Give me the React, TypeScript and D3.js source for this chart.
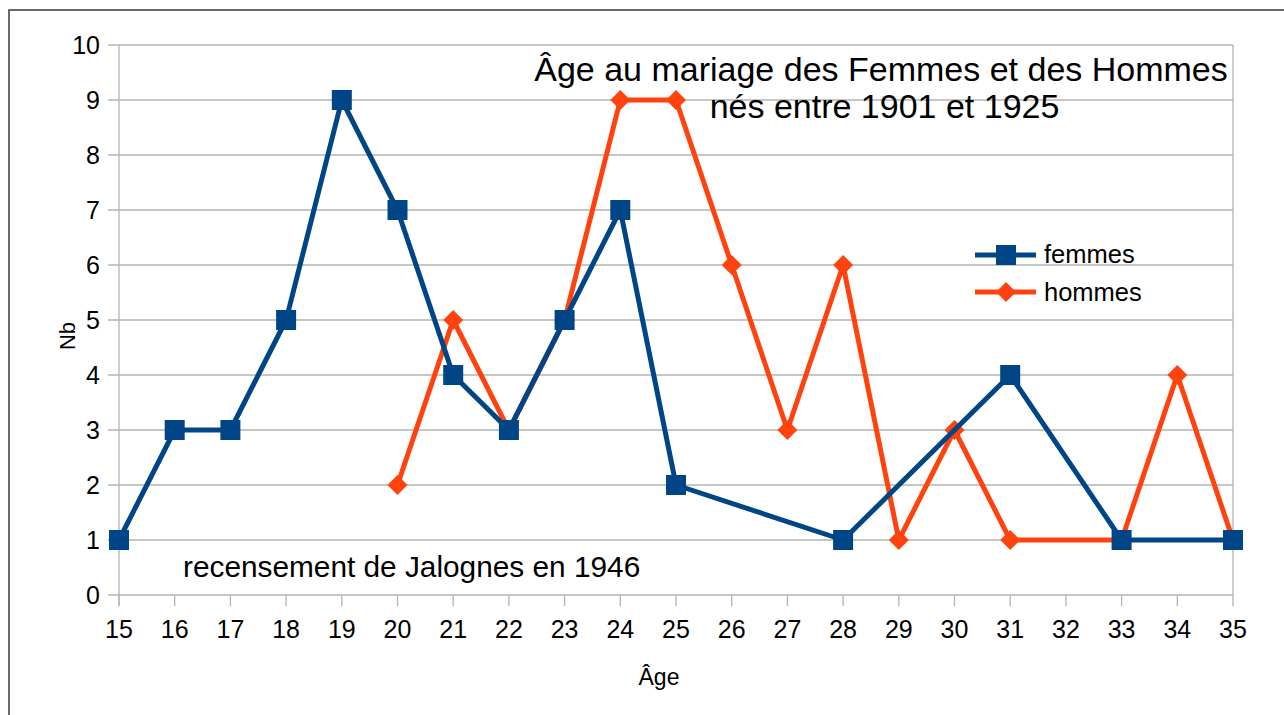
import React from 'react';
import * as d3 from 'd3';

// ages (x) and counts (y)
const femmesAges = [15, 16, 17, 18, 19, 20, 21, 22, 23, 24, 25, 28, 31, 33, 35];
const femmesNb = [1, 3, 3, 5, 9, 7, 4, 3, 5, 7, 2, 1, 4, 1, 1];

const hommesAges = [20, 21, 22, 23, 24, 25, 26, 27, 28, 29, 30, 31, 33, 34, 35];
const hommesNb = [2, 5, 3, 5, 9, 9, 6, 3, 6, 1, 3, 1, 1, 4, 1];

const xTicks = d3.range(15, 36);
const yTicks = d3.range(0, 11);

const titleLines = ['Âge au mariage des Femmes et des Hommes', 'nés entre 1901 et 1925'];
const note = 'recensement de Jalognes en 1946';

const BLUE = '#004586';
const ORANGE = '#ff420e';
const GRID = '#b3b3b3';
const FONT = '"Liberation Sans", Arial, sans-serif';

type Pt = { age: number; nb: number };

const zip = (a: number[], b: number[]): Pt[] => a.map((age, i) => ({ age, nb: b[i] }));

export default function App() {
  const width = 1284, height = 715;

  const x = d3.scaleLinear().domain([15, 35]).range([119, 1233]);
  const y = d3.scaleLinear().domain([0, 10]).range([595, 45]);

  const line = d3.line<Pt>()
    .x(d => x(d.age))
    .y(d => y(d.nb));

  const femmes = zip(femmesAges, femmesNb);
  const hommes = zip(hommesAges, hommesNb);

  const square = (cx: number, cy: number, key: any) =>
    <rect key={key} x={cx - 10} y={cy - 10} width={20} height={20} fill={BLUE} />;
  const diamond = (cx: number, cy: number, key: any) =>
    <path key={key} d={`M${cx},${cy - 10}L${cx + 10},${cy}L${cx},${cy + 10}L${cx - 10},${cy}Z`} fill={ORANGE} />;

  const [x0, x1] = x.range();
  const [yb, yt] = y.range();

  return (
    <svg width={width} height={height} style={{ position: 'absolute', left: 0, top: 0, fontFamily: FONT }}>
      <rect x={0} y={0} width={width} height={height} fill="#fff" />
      {/* outer frame */}
      <path d={`M9,${height}V10H${width}`} fill="none" stroke="#3a3a3a" strokeWidth={1.5} />

      {/* grid */}
      {yTicks.map(t => (
        <line key={'g' + t} x1={x0 - 11} x2={x1} y1={y(t)} y2={y(t)} stroke={GRID} strokeWidth={1.3} />
      ))}
      {xTicks.map(t => (
        <line key={'t' + t} x1={x(t)} x2={x(t)} y1={yb} y2={yb + 11} stroke={GRID} strokeWidth={1.3} />
      ))}
      <line x1={x0} x2={x0} y1={yt} y2={yb + 11} stroke={GRID} strokeWidth={1.3} />
      <line x1={x1} x2={x1} y1={yt} y2={yb} stroke={GRID} strokeWidth={1.3} />

      {/* tick labels */}
      {yTicks.map(t => (
        <text key={'yl' + t} x={100} y={y(t) + 9} fontSize={25} textAnchor="end" fill="#000">{t}</text>
      ))}
      {xTicks.map(t => (
        <text key={'xl' + t} x={x(t)} y={637.5} fontSize={25} textAnchor="middle" fill="#000">{t}</text>
      ))}

      {/* axis titles */}
      <text x={659} y={685} fontSize={23} textAnchor="middle">Âge</text>
      <text transform="translate(75,336) rotate(-90)" fontSize={22} textAnchor="middle">Nb</text>

      {/* series: hommes below, femmes on top */}
      <path d={line(hommes) || ''} fill="none" stroke={ORANGE} strokeWidth={5} strokeLinejoin="round" />
      {hommes.map((d, i) => diamond(x(d.age), y(d.nb), 'h' + i))}
      <path d={line(femmes) || ''} fill="none" stroke={BLUE} strokeWidth={5} strokeLinejoin="round" />
      {femmes.map((d, i) => square(x(d.age), y(d.nb), 'f' + i))}

      {/* title */}
      <text x={881} y={81} fontSize={34} textAnchor="middle">{titleLines[0]}</text>
      <text x={884.5} y={118} fontSize={34} textAnchor="middle">{titleLines[1]}</text>

      {/* note */}
      <text x={183} y={577} fontSize={29.8}>{note}</text>

      {/* legend */}
      <line x1={975} x2={1036} y1={255} y2={255} stroke={BLUE} strokeWidth={5} />
      {square(1006, 255, 'lf')}
      <text x={1044} y={263} fontSize={25.5}>femmes</text>
      <line x1={975} x2={1036} y1={292} y2={292} stroke={ORANGE} strokeWidth={5} />
      {diamond(1006, 292, 'lh')}
      <text x={1044} y={301} fontSize={25.5}>hommes</text>
    </svg>
  );
}
